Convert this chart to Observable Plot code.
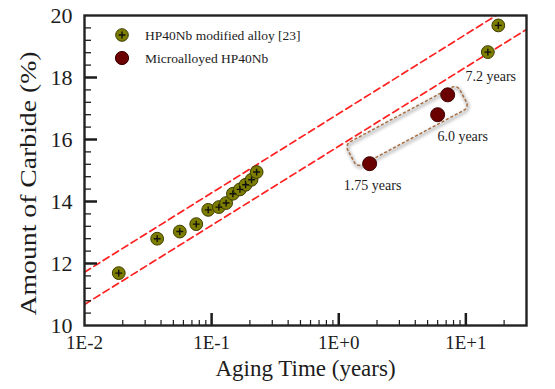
<!DOCTYPE html>
<html>
<head>
<meta charset="utf-8">
<script src="https://cdn.jsdelivr.net/npm/d3@7"></script>
<script src="https://cdn.jsdelivr.net/npm/@observablehq/plot@0.6"></script>
<style>
  html, body { margin: 0; padding: 0; background: #fff; }
</style>
</head>
<body>
<div id="chart"></div>
<script>
// HP40Nb modified alloy [23]: aging time (years) vs. amount of carbide (%)
const modifiedTime = [0.0186, 0.0373, 0.0562, 0.0757, 0.094, 0.114, 0.130, 0.147, 0.167, 0.185, 0.206, 0.226, 14.9, 18.0];
const modifiedCarbide = [11.69, 12.80, 13.03, 13.27, 13.73, 13.82, 13.95, 14.25, 14.39, 14.54, 14.70, 14.95, 18.82, 19.68];

// Microalloyed HP40Nb
const microTime = [1.75, 6.0, 7.2];
const microCarbide = [15.22, 16.80, 17.44];
const microLabels = ["1.75 years", "6.0 years", "7.2 years"];

// Series names
const seriesNames = ["HP40Nb modified alloy [23]", "Microalloyed HP40Nb"];

// Scatter band limits (time, carbide)
const bandUpperTime = [0.01, 17.3];
const bandUpperCarbide = [11.72, 20];
const bandLowerTime = [0.01, 30];
const bandLowerCarbide = [10.68, 19.55];

// Ends of the frame around the microalloyed points (time, carbide)
const boxTime = [1.26, 9.6];
const boxCarbide = [15.45, 17.39];

// Axis ticks
const xTickValues = [0.01, 0.1, 1, 10, 30];
const xTickLabels = ["1E-2", "1E-1", "1E+0", "1E+1", "3E+1"];
const xMajor = [0.1, 1, 10];
const yTickValues = [10, 12, 14, 16, 18, 20];

const xMinor = [0.01, 0.1, 1, 10]
  .flatMap(d => [2, 3, 4, 5, 6, 7, 8, 9].map(k => k * d))
  .filter(v => v < 30);
const yMinor = d3.range(10.4, 20, 0.4).filter(v => Math.abs(v - Math.round(v / 2) * 2) > 1e-6);

const W = 555, H = 389;
const M = {top: 15, right: 29, bottom: 64, left: 84};
const frameW = W - M.left - M.right;
const frameH = H - M.top - M.bottom;

const olive = "#7d7d00", oliveEdge = "#3c3c00";
const maroon = "#6a0000", maroonEdge = "#3e0000";
const ink = "#1c1c1c";
const serif = "'Liberation Serif', 'Times New Roman', serif";

// thin "+" marker drawn as strokes
const plusSymbol = {
  draw(ctx, size) {
    const s = Math.sqrt(size / Math.PI);
    ctx.moveTo(-s, 0); ctx.lineTo(s, 0);
    ctx.moveTo(0, -s); ctx.lineTo(0, s);
  }
};

// rounded, rotated dashed frame with a soft shadow
function annotationBox(index, scales) {
  const p = [scales.x(boxTime[0]), scales.y(boxCarbide[0])];
  const q = [scales.x(boxTime[1]), scales.y(boxCarbide[1])];
  const len = Math.hypot(q[0] - p[0], q[1] - p[1]);
  const ang = Math.atan2(q[1] - p[1], q[0] - p[0]) * 180 / Math.PI;
  const cx = (p[0] + q[0]) / 2, cy = (p[1] + q[1]) / 2;
  const half = 13;
  const g = d3.create("svg:g");
  const f = g.append("defs").append("filter").attr("id", "boxShadow")
    .attr("x", "-20%").attr("y", "-50%").attr("width", "140%").attr("height", "200%");
  f.append("feGaussianBlur").attr("stdDeviation", 1.8);
  g.append("rect")
    .attr("x", -len / 2).attr("y", -half).attr("width", len).attr("height", 2 * half)
    .attr("rx", 6).attr("ry", 6)
    .attr("fill", "none").attr("stroke", "#8c8c8c").attr("stroke-width", 3).attr("opacity", 0.55)
    .attr("filter", "url(#boxShadow)")
    .attr("transform", `translate(${cx + 1},${cy + 1.8}) rotate(${ang})`);
  g.append("rect")
    .attr("x", -len / 2).attr("y", -half).attr("width", len).attr("height", 2 * half)
    .attr("rx", 6).attr("ry", 6)
    .attr("fill", "none").attr("stroke", "#a5683a").attr("stroke-width", 1.4)
    .attr("stroke-dasharray", "3,2")
    .attr("transform", `translate(${cx},${cy}) rotate(${ang})`);
  return g.node();
}

// legend drawn inside the upper-left corner of the frame
function legend(index, scales, values, dimensions) {
  const g = d3.create("svg:g")
    .attr("font-family", serif)
    .attr("font-size", 13.5).attr("fill", ink)
    .attr("text-anchor", "start");
  const x0 = dimensions.marginLeft + 38;
  const rows = [dimensions.marginTop + 20, dimensions.marginTop + 43];
  // first series: olive dot with a plus
  g.append("circle").attr("cx", x0).attr("cy", rows[0]).attr("r", 6.3)
    .attr("fill", olive).attr("stroke", oliveEdge).attr("stroke-width", 1);
  g.append("path").attr("d", `M${x0 - 3.4},${rows[0]}h6.8M${x0},${rows[0] - 3.4}v6.8`)
    .attr("stroke", "#111").attr("stroke-width", 1.4);
  // second series: maroon dot
  g.append("circle").attr("cx", x0).attr("cy", rows[1]).attr("r", 6.6)
    .attr("fill", maroon).attr("stroke", maroonEdge).attr("stroke-width", 1);
  seriesNames.forEach((name, k) => {
    g.append("text").attr("x", x0 + 23).attr("y", rows[k]).attr("dy", "0.35em")
      .attr("text-anchor", "start").text(name);
  });
  return g.node();
}

const modIdx = d3.range(modifiedTime.length);
const microIdx = d3.range(microTime.length);
const labelShift = [[3, 22], [25, 22], [43, -18]];

const chart = Plot.plot({
  width: W,
  height: H,
  marginTop: M.top,
  marginRight: M.right,
  marginBottom: M.bottom,
  marginLeft: M.left,
  style: {
    fontFamily: serif,
    color: ink,
    background: "#fff",
    overflow: "visible"
  },
  x: {type: "log", domain: [0.01, 30], label: null},
  y: {domain: [10, 20], label: null},
  marks: [
    annotationBox,

    // scatter band
    Plot.line(bandUpperTime.map((t, i) => [t, bandUpperCarbide[i]]), {
      x: d => d[0], y: d => d[1], stroke: "#ff2020", strokeWidth: 1.7,
      strokeDasharray: "7,4", clip: true
    }),
    Plot.line(bandLowerTime.map((t, i) => [t, bandLowerCarbide[i]]), {
      x: d => d[0], y: d => d[1], stroke: "#ff2020", strokeWidth: 1.7,
      strokeDasharray: "7,4", clip: true
    }),

    // HP40Nb modified alloy
    Plot.dot(modIdx, {
      x: i => modifiedTime[i], y: i => modifiedCarbide[i],
      r: 6.4, fill: olive, stroke: oliveEdge, strokeWidth: 1
    }),
    Plot.dot(modIdx, {
      x: i => modifiedTime[i], y: i => modifiedCarbide[i],
      symbol: plusSymbol, r: 3.4, fill: "none", stroke: "#111", strokeWidth: 1.4
    }),

    // Microalloyed HP40Nb
    Plot.dot(microIdx, {
      x: i => microTime[i], y: i => microCarbide[i],
      r: 7, fill: maroon, stroke: maroonEdge, strokeWidth: 1
    }),
    ...microIdx.map(k => Plot.text([k], {
      x: i => microTime[i], y: i => microCarbide[i], text: i => microLabels[i],
      dx: labelShift[k][0], dy: labelShift[k][1], fontSize: 14, fill: ink
    })),

    // inward ticks
    Plot.ruleX(xMinor, {stroke: ink, strokeWidth: 1.2, insetTop: frameH - 5}),
    Plot.ruleX(xMajor, {stroke: ink, strokeWidth: 2.5, insetTop: frameH - 12}),
    Plot.ruleY(yMinor, {stroke: ink, strokeWidth: 1.3, insetRight: frameW - 7}),
    Plot.ruleY(yTickValues.slice(1, -1), {stroke: ink, strokeWidth: 2.5, insetRight: frameW - 13}),
    Plot.frame({stroke: "#222", strokeWidth: 2.4}),

    // tick labels
    Plot.axisX(xTickValues, {
      tickSize: 0, tickPadding: 10, fontSize: 19, label: null,
      tickFormat: v => xTickLabels[xTickValues.indexOf(v)]
    }),
    Plot.axisY(yTickValues, {
      tickSize: 0, tickPadding: 12, fontSize: 22, label: null
    }),

    // axis titles
    Plot.text(["Aging Time (years)"], {frameAnchor: "bottom", dy: 50, fontSize: 23, fill: ink}),
    Plot.text(["Amount of Carbide (%)"], {
      frameAnchor: "left", rotate: -90, textAnchor: "start",
      dx: -56, dy: 145, fontSize: 23, fill: ink
    }),

    legend
  ]
});

// the vertical title is set in a stretched face
d3.select(chart).selectAll("text")
  .filter(function () { return this.textContent === "Amount of Carbide (%)"; })
  .attr("textLength", 264).attr("lengthAdjust", "spacingAndGlyphs");

document.getElementById("chart").appendChild(chart);
</script>
</body>
</html>
